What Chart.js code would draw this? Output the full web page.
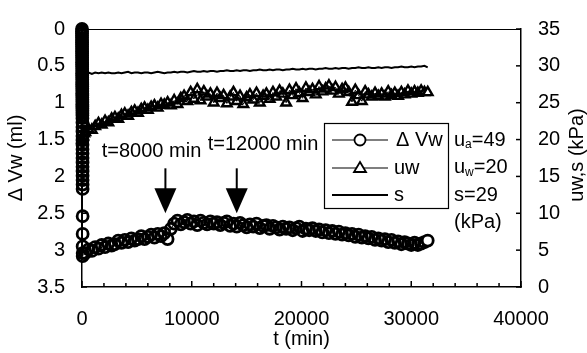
<!DOCTYPE html>
<html>
<head>
<meta charset="utf-8">
<script src="https://cdn.jsdelivr.net/npm/chart.js@4.4.1/dist/chart.umd.min.js"></script>
<style>
  html, body { margin: 0; padding: 0; background: #fff; }
</style>
</head>
<body>
<canvas id="grafico" width="587" height="353"></canvas>
<script>
// primeros minutos: el volumen de agua sube casi vertical
const dvwInicioT = [
  0, 1, 2, 3, 4, 5, 6, 7, 8, 9,
  10, 11, 12, 13, 14, 15, 16, 17, 18, 19,
  20, 21, 22, 23, 24, 25, 26, 27, 28, 29,
  30, 31, 32, 33, 34, 35, 36, 37, 38, 39,
  40, 41, 42, 43, 44, 45, 46, 47, 48, 49,
  50, 51, 52, 53, 54, 55, 56, 57, 58, 59,
  60, 61
];
const dvwInicio = [
  0.00, 0.03, 0.06, 0.09, 0.12, 0.15, 0.18, 0.21, 0.24, 0.27,
  0.30, 0.33, 0.36, 0.39, 0.42, 0.45, 0.48, 0.51, 0.54, 0.57,
  0.60, 0.63, 0.66, 0.69, 0.72, 0.75, 0.78, 0.81, 0.84, 0.87,
  0.90, 0.93, 0.96, 0.99, 1.02, 1.05, 1.08, 1.11, 1.14, 1.17,
  1.21, 1.27, 1.33, 1.39, 1.45, 1.51, 1.57, 1.63, 1.69, 1.75,
  1.81, 1.87, 1.93, 1.99, 2.05, 2.11, 2.17, 2.54, 2.78, 2.95,
  3.04, 3.08
];

// registro cada 300 min
const tiempo = [
  300, 600, 900, 1200, 1500, 1800, 2100, 2400, 2700, 3000,
  3300, 3600, 3900, 4200, 4500, 4800, 5100, 5400, 5700, 6000,
  6300, 6600, 6900, 7200, 7500, 7800, 8100, 8400, 8700, 9000,
  9300, 9600, 9900, 10200, 10500, 10800, 11100, 11400, 11700, 12000,
  12300, 12600, 12900, 13200, 13500, 13800, 14100, 14400, 14700, 15000,
  15300, 15600, 15900, 16200, 16500, 16800, 17100, 17400, 17700, 18000,
  18300, 18600, 18900, 19200, 19500, 19800, 20100, 20400, 20700, 21000,
  21300, 21600, 21900, 22200, 22500, 22800, 23100, 23400, 23700, 24000,
  24300, 24600, 24900, 25200, 25500, 25800, 26100, 26400, 26700, 27000,
  27300, 27600, 27900, 28200, 28500, 28800, 29100, 29400, 29700, 30000,
  30300, 30600, 30900, 31200, 31500
];
const dvw = [
  3.04, 2.99, 3.01, 2.96, 2.98, 2.93, 2.96, 2.91, 2.94, 2.92,
  2.87, 2.90, 2.86, 2.89, 2.84, 2.87, 2.85, 2.81, 2.85, 2.82,
  2.79, 2.83, 2.78, 2.81, 2.77, 2.85, 2.71, 2.64, 2.60, 2.65,
  2.62, 2.59, 2.64, 2.61, 2.66, 2.60, 2.63, 2.65, 2.61, 2.64,
  2.62, 2.66, 2.63, 2.61, 2.67, 2.64, 2.68, 2.63, 2.66, 2.69,
  2.65, 2.68, 2.64, 2.70, 2.67, 2.66, 2.71, 2.67, 2.69, 2.72,
  2.68, 2.71, 2.69, 2.73, 2.70, 2.68, 2.74, 2.71, 2.73, 2.70,
  2.74, 2.72, 2.76, 2.73, 2.77, 2.74, 2.78, 2.75, 2.79, 2.77,
  2.80, 2.78, 2.82, 2.79, 2.83, 2.81, 2.84, 2.82, 2.86, 2.84,
  2.87, 2.85, 2.89, 2.86, 2.90, 2.88, 2.92, 2.89, 2.91, 2.93,
  2.90, 2.93, 2.91, 2.89, 2.87
];
const uwInicioT = [0, 100, 200];
const uwInicio = [20.0, 20.4, 20.8];
const uw = [
  21.0, 21.4, 21.3, 21.8, 22.2, 22.0, 22.5, 22.3, 22.8, 23.0,
  22.8, 23.3, 23.5, 23.2, 23.7, 23.9, 23.6, 24.1, 24.3, 24.0,
  24.4, 24.6, 24.3, 24.8, 24.7, 25.0, 24.6, 25.3, 24.8, 25.6,
  25.9, 25.2, 26.4, 25.5, 26.8, 25.3, 26.5, 25.8, 26.2, 25.0,
  26.3, 25.6, 26.0, 24.9, 25.8, 26.4, 25.2, 25.9, 24.8, 25.7,
  26.1, 25.4, 26.3, 25.0, 25.9, 26.2, 25.5, 26.4, 25.8, 26.6,
  26.2, 25.0, 26.7, 26.0, 26.9, 26.3, 25.6, 27.0, 26.4, 26.8,
  26.1, 27.2, 26.5, 26.9, 27.3, 26.6, 27.1, 26.2, 26.8, 27.0,
  26.4, 25.1, 26.7, 26.0, 25.2, 26.5, 26.1, 25.8, 26.3, 25.9,
  26.2, 25.8, 26.5, 26.0, 26.3, 25.9, 26.4, 26.1, 26.6, 26.2,
  26.5, 26.3, 26.6, 26.4, 26.4
];
const sInicioT = [0];
const sInicio = [29.0];
const s = [
  29.0, 29.1, 28.9, 29.1, 29.0, 29.1, 29.0, 29.1, 29.0, 29.0,
  29.1, 29.0, 29.1, 29.2, 29.0, 29.1, 29.1, 29.0, 29.1, 29.1,
  29.0, 29.1, 29.2, 29.1, 29.0, 29.1, 29.1, 29.2, 29.1, 29.2,
  29.2, 29.1, 29.2, 29.3, 29.2, 29.2, 29.3, 29.2, 29.3, 29.3,
  29.2, 29.3, 29.3, 29.4, 29.3, 29.3, 29.4, 29.3, 29.4, 29.4,
  29.3, 29.4, 29.4, 29.5, 29.4, 29.4, 29.5, 29.4, 29.5, 29.5,
  29.4, 29.5, 29.5, 29.6, 29.5, 29.5, 29.6, 29.5, 29.6, 29.6,
  29.5, 29.6, 29.6, 29.7, 29.6, 29.6, 29.7, 29.6, 29.7, 29.7,
  29.6, 29.7, 29.7, 29.8, 29.7, 29.7, 29.8, 29.7, 29.7, 29.8,
  29.7, 29.8, 29.8, 29.7, 29.8, 29.8, 29.9, 29.8, 29.8, 29.9,
  29.8, 29.9, 29.9, 30.0, 29.8
];

const xTicks = [0, 10000, 20000, 30000, 40000];
const condiciones = [['u', 'a', '=49'], ['u', 'w', '=20'], ['s=29', '', ''], ['(kPa)', '', '']];

const fuente = { family: "'Liberation Sans', Arial, sans-serif", size: 20 };
const fuenteCss = "20px 'Liberation Sans', Arial, sans-serif";

function pares(t, v) {
  return t.map((ti, i) => ({ x: ti, y: v[i] }));
}

// solo el último marcador queda relleno de blanco
function rellenoFinal(ctx) {
  return ctx.dataIndex === ctx.dataset.data.length - 1 ? '#fff' : 'rgba(0,0,0,0)';
}

// marco, marcas interiores, flechas, leyenda y textos
const extras = {
  id: 'extras',
  afterDraw(chart) {
    const { ctx, chartArea: a, scales: { x, y, y2 } } = chart;
    const linea = (x0, y0, x1, y1) => { ctx.beginPath(); ctx.moveTo(x0, y0); ctx.lineTo(x1, y1); ctx.stroke(); };
    ctx.save();
    ctx.strokeStyle = '#000';
    ctx.fillStyle = '#000';

    ctx.lineWidth = 1;
    linea(a.left, a.top + 0.5, a.right, a.top + 0.5);

    ctx.lineWidth = 1.5;
    for (let v = 0; v <= 40000; v += 2000) {
      const px = x.getPixelForValue(v);
      linea(px, a.bottom, px, a.bottom - (v % 10000 === 0 ? 6 : 4));
    }
    for (let v = 0; v <= 35; v += 5) {
      const py = y2.getPixelForValue(v);
      linea(a.right, py, a.right - 5, py);
    }
    for (let v = 0; v <= 3.5; v += 0.5) {
      const py = y.getPixelForValue(v);
      linea(a.left, py, a.left + 5, py);
    }

    // flechas
    function flecha(t, v0, v1) {
      const px = x.getPixelForValue(t);
      const p0 = y.getPixelForValue(v0);
      const p1 = y.getPixelForValue(v1);
      ctx.lineWidth = 2;
      linea(px, p0, px, p1 - 22);
      ctx.beginPath();
      ctx.moveTo(px - 11, p1 - 25);
      ctx.lineTo(px + 11, p1 - 25);
      ctx.lineTo(px, p1);
      ctx.closePath();
      ctx.fill();
    }
    flecha(7600, 1.89, 2.50);
    flecha(14100, 1.89, 2.50);

    ctx.font = fuenteCss;
    ctx.textBaseline = 'middle';
    ctx.textAlign = 'left';
    ctx.fillText('t=8000 min', x.getPixelForValue(1800), y.getPixelForValue(1.66));
    ctx.fillText('t=12000 min', x.getPixelForValue(11450), y.getPixelForValue(1.57));

    // leyenda
    const lx = a.left + 242, ly = a.top + 94, lw = 124, lh = 85;
    ctx.fillStyle = '#fff';
    ctx.fillRect(lx, ly, lw, lh);
    ctx.fillStyle = '#000';
    ctx.lineWidth = 1.2;
    ctx.strokeRect(lx + 0.5, ly + 0.5, lw, lh);
    const filas = [ly + 17, ly + 45, ly + 72];
    ctx.lineWidth = 1.2;
    linea(lx + 8, filas[0], lx + 64, filas[0]);
    linea(lx + 8, filas[1], lx + 64, filas[1]);
    ctx.lineWidth = 2;
    linea(lx + 8, filas[2], lx + 64, filas[2]);
    ctx.lineWidth = 1.8;
    ctx.fillStyle = '#fff';
    ctx.beginPath();
    ctx.arc(lx + 36, filas[0], 5.5, 0, Math.PI * 2);
    ctx.fill(); ctx.stroke();
    ctx.beginPath();
    ctx.moveTo(lx + 36, filas[1] - 6);
    ctx.lineTo(lx + 42, filas[1] + 4);
    ctx.lineTo(lx + 30, filas[1] + 4);
    ctx.closePath();
    ctx.fill(); ctx.stroke();
    ctx.fillStyle = '#000';
    ctx.fillText('\u0394 Vw', lx + 72, filas[0]);
    ctx.fillText('uw', lx + 70, filas[1]);
    ctx.fillText('s', lx + 70, filas[2]);

    // condiciones del ensayo
    let cy = filas[0];
    const cx = lx + lw + 6;
    condiciones.forEach(c => {
      ctx.font = fuenteCss;
      ctx.fillText(c[0], cx, cy);
      let w = ctx.measureText(c[0]).width;
      if (c[1]) {
        ctx.font = "12px 'Liberation Sans', Arial, sans-serif";
        ctx.fillText(c[1], cx + w, cy + 5);
        w += ctx.measureText(c[1]).width;
        ctx.font = fuenteCss;
        ctx.fillText(c[2], cx + w, cy);
      }
      cy += 27.5;
    });

    // título del eje derecho, leído de abajo hacia arriba
    ctx.font = fuenteCss;
    ctx.textAlign = 'center';
    ctx.translate(577, (a.top + a.bottom) / 2 - 3);
    ctx.rotate(-Math.PI / 2);
    ctx.fillText('uw,s (kPa)', 0, 0);
    ctx.restore();
  }
};

new Chart(document.getElementById('grafico'), {
  type: 'scatter',
  data: {
    datasets: [
      {
        label: '\u0394 Vw',
        data: pares(dvwInicioT.concat(tiempo), dvwInicio.concat(dvw)),
        yAxisID: 'y',
        showLine: true,
        borderColor: '#000',
        borderWidth: 1,
        pointStyle: 'circle',
        pointRadius: 5.5,
        pointBorderWidth: 2.8,
        pointBackgroundColor: rellenoFinal,
        pointBorderColor: '#000',
        clip: false
      },
      {
        label: 'uw',
        data: pares(uwInicioT.concat(tiempo), uwInicio.concat(uw)),
        yAxisID: 'y2',
        showLine: true,
        borderColor: '#000',
        borderWidth: 1,
        pointStyle: 'triangle',
        pointRadius: 5.5,
        pointBorderWidth: 2.4,
        pointBackgroundColor: rellenoFinal,
        pointBorderColor: '#000',
        clip: false
      },
      {
        label: 's',
        data: pares(sInicioT.concat(tiempo), sInicio.concat(s)),
        yAxisID: 'y2',
        showLine: true,
        borderColor: '#000',
        borderWidth: 2,
        pointRadius: 0,
        clip: false
      }
    ]
  },
  options: {
    responsive: false,
    animation: false,
    layout: { padding: { top: 16, left: 0, right: 0, bottom: 0 } },
    plugins: {
      legend: { display: false },
      tooltip: { enabled: false }
    },
    scales: {
      x: {
        type: 'linear',
        min: 0,
        max: 40000,
        afterBuildTicks: sc => { sc.ticks = xTicks.map(v => ({ value: v })); },
        ticks: { color: '#000', font: fuente, padding: 20, maxRotation: 0, callback: v => String(v) },
        grid: { display: false, drawTicks: false },
        border: { color: '#000', width: 1.5 },
        title: { display: true, text: 't (min)', color: '#000', font: fuente, padding: { top: 0, bottom: 2 } },
        afterFit: sc => { sc.height = 66; }
      },
      y: {
        position: 'left',
        reverse: true,
        min: 0,
        max: 3.5,
        ticks: { stepSize: 0.5, color: '#000', font: fuente, padding: 17, callback: v => String(v) },
        grid: { display: false, drawTicks: false },
        border: { color: '#000', width: 1.5 },
        title: { display: true, text: '\u0394 Vw (ml)', color: '#000', font: fuente, padding: { top: 4, bottom: 0 } },
        afterFit: sc => { sc.width = 82; }
      },
      y2: {
        position: 'right',
        min: 0,
        max: 35,
        ticks: { stepSize: 5, color: '#000', font: fuente, padding: 17, callback: v => String(v) },
        grid: { display: false, drawTicks: false },
        border: { color: '#000', width: 1.5 },
        afterFit: sc => { sc.width = 66; }
      }
    }
  },
  plugins: [extras]
});
</script>
</body>
</html>
